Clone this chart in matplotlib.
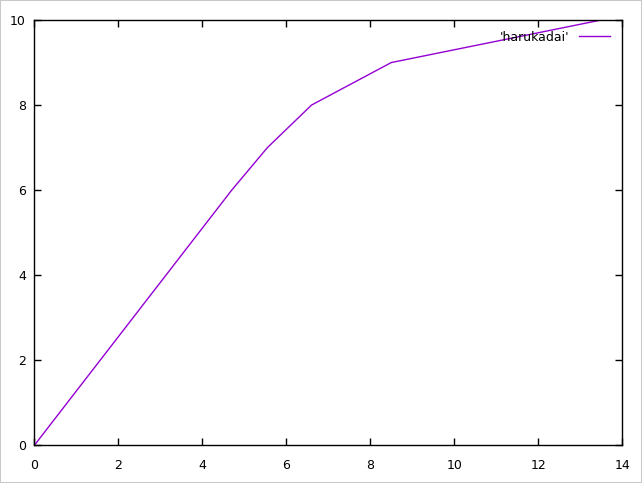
import matplotlib
matplotlib.use('Agg')
import matplotlib.pyplot as plt

# datos
x = [0, 4.7, 5.55, 6.6, 8.5, 13.5]
y = [0, 6, 7, 8, 9, 10]
etiqueta = "'harukadai'"

fig = plt.figure(figsize=(6.42, 4.83), dpi=100, linewidth=1.2, edgecolor='#c8c8c8')
ax = fig.add_axes([0.0535, 0.078, 0.9158, 0.8806])
ax.plot(x, y, color='#9400d3', linewidth=1, label=etiqueta)

ax.set_xlim(0, 14)
ax.set_ylim(0, 10)
ax.set_xticks(range(0, 15, 2))
ax.set_yticks(range(0, 11, 2))
ax.tick_params(direction='in', length=5, width=1, top=True, right=True,
               labelsize=9, colors='black')
ax.tick_params(axis='x', pad=10)
ax.tick_params(axis='y', pad=6)
for s in ax.spines.values():
    s.set_linewidth(1)

ax.legend(loc='upper right', frameon=False, markerfirst=False, fontsize=9,
          handlelength=2.5, handletextpad=0.75, borderaxespad=0.3,
          bbox_to_anchor=(0.994, 0.995))

plt.savefig('out.png', dpi=100)
